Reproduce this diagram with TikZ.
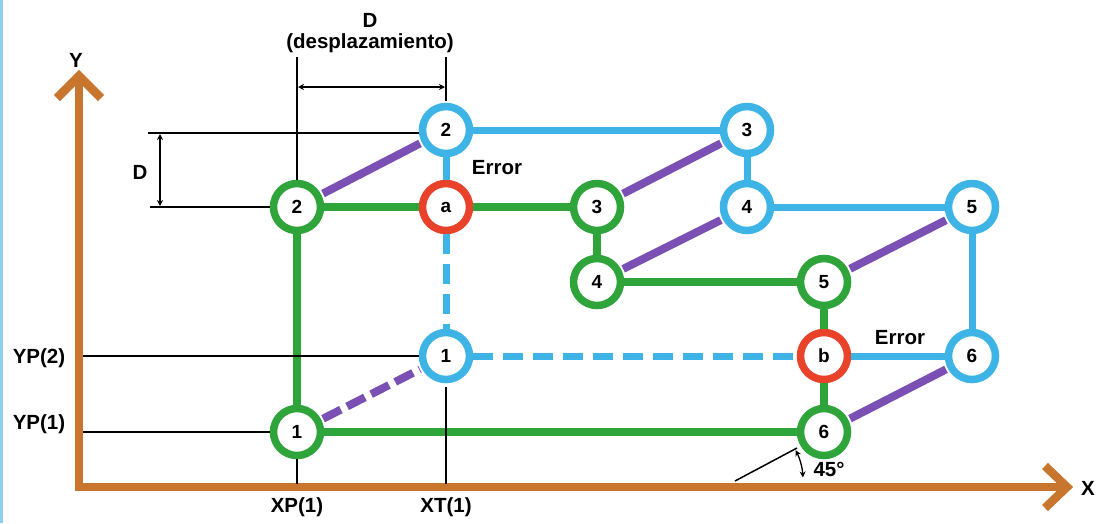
\documentclass[tikz,border=0pt]{standalone}
\usepackage{fontspec}
\setmainfont{Liberation Sans}
\usetikzlibrary{arrows.meta}
\definecolor{cbrown}{HTML}{C8762E}
\definecolor{cgreen}{HTML}{2EA43B}
\definecolor{cblue}{HTML}{3DB4E5}
\definecolor{cred}{HTML}{E8432A}
\definecolor{cpurple}{HTML}{7B50B5}
\tikzset{
  pnode/.style={circle, line width=7.5pt, minimum size=47pt, inner sep=0pt, fill=white,
    font=\fontsize{19}{19}\selectfont\bfseries},
  gnode/.style={pnode, draw=cgreen},
  bnode/.style={pnode, draw=cblue},
  rnode/.style={pnode, draw=cred},
  gline/.style={draw=cgreen, line width=8pt},
  bline/.style={draw=cblue, line width=7pt},
  bdash/.style={bline, dash pattern=on 20pt off 10pt},
  pline/.style={draw=cpurple, line width=8pt, shorten <=2pt, shorten >=2pt},
  pdash/.style={pline, dash pattern=on 20pt off 7pt},
  thin/.style={draw=black, line width=1.5pt},
  dim/.style={thin, {Stealth[length=6pt,width=6pt]}-{Stealth[length=6pt,width=6pt]}},
  axis/.style={draw=cbrown, line width=8.5pt},
  lbl/.style={font=\fontsize{20.5}{20.5}\selectfont\bfseries, inner sep=0pt},
}
\begin{document}
\begin{tikzpicture}[x=1pt,y=-1pt]
\useasboundingbox (0,0) rectangle (1098,523);
\fill[white] (0,0) rectangle (1098,523);
\fill[cblue!60] (0,0) rectangle (2.5,523);

% axes
\draw[axis, line cap=butt] (79,78) -- (79,491);
\draw[axis, line cap=butt] (75,487) -- (1064,487);
\draw[axis, line cap=butt, line join=miter] (57,98) -- (79,76) -- (101,98);
\draw[axis, line cap=butt, line join=miter] (1045,466) -- (1067,487) -- (1045,508);
\node[lbl] (ylab) at (76,60) {Y};
\node[lbl] (xlab) at (1088,488) {X};

% nodes
\node[gnode] (G1) at (297,432) {1};
\node[gnode] (G2) at (297,207) {2};
\node[gnode] (G3) at (597,207) {3};
\node[gnode] (G4) at (597,282) {4};
\node[gnode] (G5) at (824,282) {5};
\node[gnode] (G6) at (824,432) {6};
\node[rnode] (a) at (446,207) {a};
\node[rnode] (b) at (824,356) {b};
\node[bnode] (B1) at (446,356) {1};
\node[bnode] (B2) at (446,130) {2};
\node[bnode] (B3) at (747,130) {3};
\node[bnode] (B4) at (747,207) {4};
\node[bnode] (B5) at (972,207) {5};
\node[bnode] (B6) at (972,356) {6};

% green path
\draw[gline] (G1) -- (G2);
\draw[gline] (G2) -- (a);
\draw[gline] (a) -- (G3);
\draw[gline] (G3) -- (G4);
\draw[gline] (G4) -- (G5);
\draw[gline] (G5) -- (b);
\draw[gline] (b) -- (G6);
\draw[gline] (G6) -- (G1);

% blue path
\draw[bline] (B2) -- (a);
\draw[bdash] (a) -- (B1);
\draw[bdash] (B1) -- (b);
\draw[bline] (b) -- (B6);
\draw[bline] (B6) -- (B5);
\draw[bline] (B5) -- (B4);
\draw[bline] (B4) -- (B3);
\draw[bline] (B3) -- (B2);

% purple links
\draw[pline] (G2) -- (B2);
\draw[pline] (G3) -- (B3);
\draw[pline] (G4) -- (B4);
\draw[pline] (G5) -- (B5);
\draw[pline] (G6) -- (B6);
\draw[pdash] (G1) -- (B1);

% error labels
\node[lbl] (ea) at (497,168) {Error};
\node[lbl] (eb) at (900,338) {Error};

% dimension D vertical (left)
\coordinate (dl1) at (148,133);
\coordinate (dl2) at (150,207);
\draw[thin] (dl1) -- (dl1 -| B2.west);
\draw[thin] (dl2) -- (G2.west);
\coordinate (dv1) at (160,134);
\coordinate (dv2) at (160,206);
\draw[dim] (dv1) -- (dv2);
\node[lbl] (dlab) at (140,172) {D};

% dimension D horizontal (top)
\coordinate (tl1) at (297,57);
\coordinate (tl2) at (446,57);
\coordinate (tl2e) at (446,101);
\draw[thin] (tl1) -- (G2.north);
\draw[thin] (tl2) -- (tl2e);
\coordinate (dh1) at (298,87);
\coordinate (dh2) at (445,87);
\draw[dim] (dh1) -- (dh2);
\node[lbl] (dtop) at (370,20) {D};
\node[lbl] (desp) at (370,43) {(desplazamiento)};

% YP / XP / XT reference lines
\coordinate (yp2) at (83,356);
\coordinate (yp1) at (83,432);
\draw[thin] (yp2) -- (B1.west);
\draw[thin] (yp1) -- (G1.west);
\node[lbl] (yp2l) at (39,358) {YP(2)};
\node[lbl] (yp1l) at (39,424) {YP(1)};
\coordinate (xp) at (297,484);
\coordinate (xt) at (446,484);
\draw[thin] (G1.south) -- (xp);
\draw[thin] ([yshift=-4pt]B1.south) -- (xt);
\node[lbl] (xpl) at (297,507) {XP(1)};
\node[lbl] (xtl) at (446,507) {XT(1)};

% 45 degree
\coordinate (ang1) at (735,481);
\coordinate (ang2) at (797,448);
\draw[thin] (ang1) -- (ang2);
\draw[dim, line width=1.3pt] (ang1) ++(-27:68) arc[start angle=-27, end angle=-3, radius=68];
\node[lbl] (deg) at (829,469) {45°};
\end{tikzpicture}
\end{document}
